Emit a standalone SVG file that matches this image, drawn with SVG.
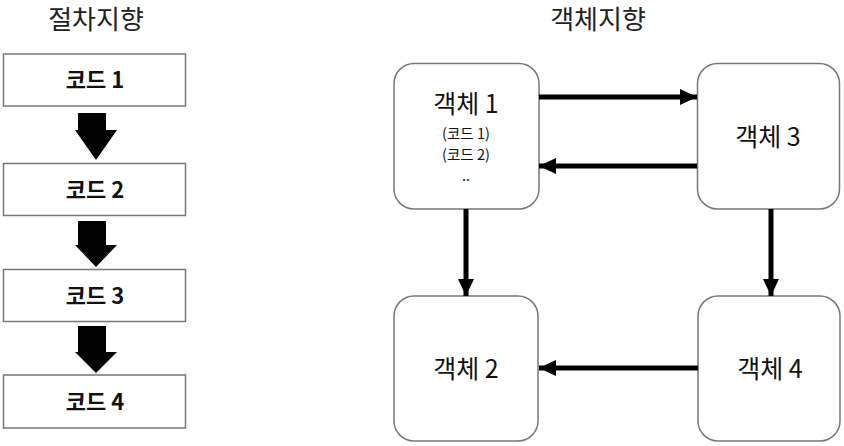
<svg xmlns="http://www.w3.org/2000/svg" width="844" height="446" viewBox="0 0 844 446">
<defs>
<style>
text{font-family:"Noto Sans CJK KR","Noto Sans",sans-serif;fill:#111;text-anchor:middle}
.title{font-size:26px;fill:#222}
.code{font-size:22px;font-weight:bold}
.obj{font-size:25px}
.sub{font-size:14.5px}
.box{fill:#fff;stroke:#777;stroke-width:1.5}
.rbox{fill:#fff;stroke:#777;stroke-width:1.5}
.big{fill:#000}
.conn{stroke:#000;stroke-width:5;fill:none}
</style>
<marker id="ah" markerWidth="4" markerHeight="4" refX="3.4" refY="2" orient="auto" markerUnits="strokeWidth">
<path d="M0,0.4 L3.4,2 L0,3.6 Z" fill="#000"/>
</marker>
</defs>
<rect width="844" height="446" fill="#fff"/>
<text class="title" x="96" y="29">절차지향</text>
<text class="title" x="598" y="29">객체지향</text>

<g id="code1"><rect class="box" x="3.5" y="54" width="182" height="52"/><text class="code" x="95" y="88">코드 1</text></g>
<g id="code2"><rect class="box" x="3.5" y="163.5" width="182" height="52"/><text class="code" x="95" y="198">코드 2</text></g>
<g id="code3"><rect class="box" x="3.5" y="269.5" width="182" height="52"/><text class="code" x="95" y="304">코드 3</text></g>
<g id="code4"><rect class="box" x="3.5" y="375" width="182" height="53"/><text class="code" x="95" y="410">코드 4</text></g>

<g id="obj1"><rect class="rbox" x="394" y="63.5" width="145" height="145.5" rx="20"/>
<text class="obj" x="466" y="113">객체 1</text>
<text class="sub" x="466" y="139">(코드 1)</text>
<text class="sub" x="466" y="160">(코드 2)</text>
<text class="sub" x="466" y="181">..</text></g>
<g id="obj3"><rect class="rbox" x="697.5" y="63.5" width="142" height="145.5" rx="20"/><text class="obj" x="768" y="146">객체 3</text></g>
<g id="obj2"><rect class="rbox" x="394" y="296" width="144" height="145" rx="20"/><text class="obj" x="466" y="378">객체 2</text></g>
<g id="obj4"><rect class="rbox" x="698" y="296" width="142" height="145" rx="20"/><text class="obj" x="770" y="378">객체 4</text></g>

<g id="connectors">
<path class="big" d="M78,113 H106 V130 H117 L96,160 L75,130 H78 Z"/>
<path class="big" d="M78,221 H106 V245 H117 L96,267 L75,245 H78 Z"/>
<path class="big" d="M78,326 H106 V352 H117 L96,373 L75,352 H78 Z"/>
<line class="conn" x1="539" y1="97" x2="697" y2="97" marker-end="url(#ah)"/>
<line class="conn" x1="697" y1="166" x2="539" y2="166" marker-end="url(#ah)"/>
<line class="conn" x1="466" y1="209" x2="466" y2="296" marker-end="url(#ah)"/>
<line class="conn" x1="771" y1="209" x2="771" y2="296" marker-end="url(#ah)"/>
<line class="conn" x1="698" y1="368" x2="539" y2="368" marker-end="url(#ah)"/>
</g>
</svg>
